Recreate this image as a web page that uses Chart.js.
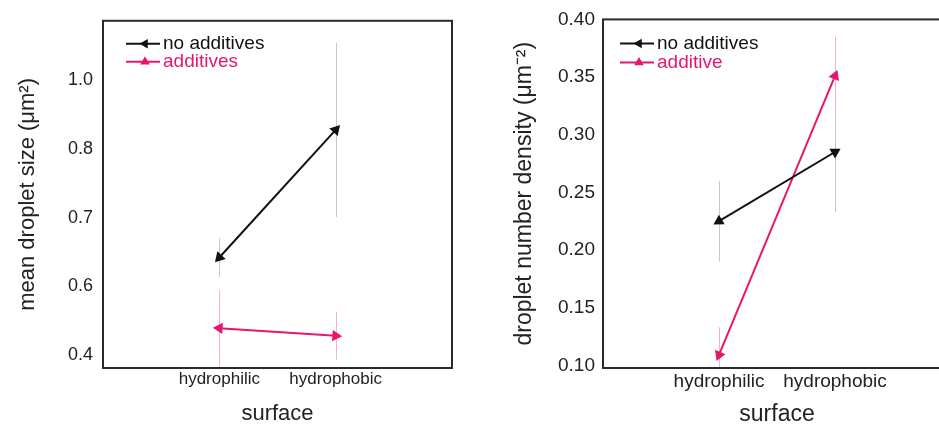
<!DOCTYPE html>
<html>
<head>
<meta charset="utf-8">
<script src="https://cdn.jsdelivr.net/npm/chart.js@4.4.1/dist/chart.umd.min.js"></script>
<style>
  html, body { margin: 0; padding: 0; background: #fff; overflow: hidden; }
  body { width: 939px; height: 430px; position: relative; }
  .panel { position: absolute; top: 0; }
  #sizePanel { left: 0; }
  #densityPanel { left: 480px; }
</style>
</head>
<body>
<div class="panel" id="sizePanel"><canvas id="sizeChart" width="470" height="430"></canvas></div>
<div class="panel" id="densityPanel"><canvas id="densityChart" width="480" height="430"></canvas></div>
<script>
const surfaces = ['hydrophilic', 'hydrophobic'];

// left panel: mean droplet size
const sizeNoAdditives = [0.642, 0.828];
const sizeNoAdditivesErr = [0.028, 0.127];
const sizeAdditives = [0.539, 0.528];
const sizeAdditivesErr = [0.056, 0.035];
const sizeTickValues = [0.5, 0.6, 0.7, 0.8, 0.9];
const sizeTickLabels = ['0.4', '0.6', '0.7', '0.8', '1.0'];

// right panel: droplet number density
const densityNoAdditives = [0.225, 0.285];
const densityNoAdditivesErr = [0.035, 0.052];
const densityAdditive = [0.109, 0.351];
const densityAdditiveErr = [0.024, 0.034];
const densityTickValues = [0.10, 0.15, 0.20, 0.25, 0.30, 0.35, 0.40];

const BLACK = '#111111';
const PINK = '#e6176b';

Chart.defaults.font.family = '"Liberation Sans", Arial, Helvetica, sans-serif';
Chart.defaults.color = '#222';

// points sit at x = 1, 2 on a 0..3 axis
function toPoints(values) {
    return values.map((v, i) => ({ x: i + 1, y: v }));
}

// turn each triangle so it points along the line, like an arrow head
function arrowRotation(ctx) {
    const chart = ctx.chart;
    const pts = ctx.dataset.data;
    const i = ctx.dataIndex;
    const j = i === 0 ? 1 : 0;
    const xs = chart.scales.x, ys = chart.scales.y;
    if (!xs || !ys || pts.length < 2) return 0;
    const dx = xs.getPixelForValue(pts[i].x) - xs.getPixelForValue(pts[j].x);
    const dy = ys.getPixelForValue(pts[i].y) - ys.getPixelForValue(pts[j].y);
    return Math.atan2(dy, dx) * 180 / Math.PI + 90;
}

function drawTriangle(ctx, x, y, r, deg) {
    const rad = deg * Math.PI / 180;
    ctx.beginPath();
    for (let k = 0; k < 3; k++) {
        const a = rad + k * 2 * Math.PI / 3;
        const px = x + Math.sin(a) * r;
        const py = y - Math.cos(a) * r;
        if (k === 0) ctx.moveTo(px, py); else ctx.lineTo(px, py);
    }
    ctx.closePath();
    ctx.fill();
}

const errorBarsPlugin = {
    id: 'errorBars',
    beforeDatasetsDraw(chart) {
        const ctx = chart.ctx;
        const xs = chart.scales.x, ys = chart.scales.y;
        const area = chart.chartArea;
        ctx.save();
        ctx.beginPath();
        ctx.rect(area.left, area.top, area.right - area.left, area.bottom - area.top);
        ctx.clip();
        ctx.lineWidth = 1;
        chart.data.datasets.forEach(ds => {
            ctx.strokeStyle = ds.errorColor;
            ds.data.forEach((p, i) => {
                const e = ds.errors[i];
                const px = Math.round(xs.getPixelForValue(p.x)) + 0.5;
                ctx.beginPath();
                ctx.moveTo(px, ys.getPixelForValue(p.y + e));
                ctx.lineTo(px, ys.getPixelForValue(p.y - e));
                ctx.stroke();
            });
        });
        ctx.restore();
    }
};

const framePlugin = {
    id: 'frame',
    afterDatasetsDraw(chart) {
        const { ctx, chartArea } = chart;
        ctx.save();
        ctx.strokeStyle = '#2a2a2a';
        ctx.lineWidth = 2;
        ctx.strokeRect(chartArea.left, chartArea.top, chartArea.right - chartArea.left, chartArea.bottom - chartArea.top);
        ctx.restore();
    }
};

const insetLegendPlugin = {
    id: 'insetLegend',
    afterDraw(chart, args, opts) {
        const { ctx, chartArea } = chart;
        ctx.save();
        ctx.font = '19px "Liberation Sans", Arial, sans-serif';
        ctx.textBaseline = 'middle';
        ctx.textAlign = 'left';
        chart.data.datasets.forEach((ds, i) => {
            const x = chartArea.left + opts.x;
            const y = chartArea.top + opts.y + i * opts.rowHeight;
            ctx.strokeStyle = ds.borderColor;
            ctx.fillStyle = ds.borderColor;
            ctx.lineWidth = 2;
            ctx.beginPath();
            ctx.moveTo(x, y);
            ctx.lineTo(x + 34, y);
            ctx.stroke();
            drawTriangle(ctx, x + 19, y, 5.5, i === 0 ? -90 : 0);
            ctx.fillText(ds.label, x + 37, y);
        });
        ctx.restore();
    }
};

function makeDataset(label, values, errors, color, errorColor) {
    return {
        label: label,
        data: toPoints(values),
        errors: errors,
        errorColor: errorColor,
        borderColor: color,
        backgroundColor: color,
        borderWidth: 2,
        pointStyle: 'triangle',
        pointRadius: 6.5,
        pointBorderWidth: 0,
        pointRotation: arrowRotation,
        tension: 0
    };
}

function buildChart(canvasId, cfg) {
    const ctx = document.getElementById(canvasId).getContext('2d');
    return new Chart(ctx, {
        type: 'line',
        data: { datasets: cfg.datasets },
        options: {
            responsive: false,
            animation: false,
            layout: { padding: { top: 19, right: cfg.padRight, left: 0, bottom: 0 } },
            plugins: {
                legend: { display: false },
                tooltip: { enabled: false },
                insetLegend: cfg.legend
            },
            scales: {
                x: {
                    type: 'linear',
                    min: 0,
                    max: 3,
                    grid: { display: false, drawTicks: false },
                    border: { display: false },
                    afterBuildTicks: scale => {
                        scale.ticks = surfaces.map((s, i) => ({ value: i + 1 }));
                    },
                    afterFit: scale => { scale.height = 62; },
                    ticks: {
                        padding: cfg.xTickPad,
                        font: { size: cfg.xTickSize },
                        color: '#222',
                        callback: v => surfaces[v - 1]
                    },
                    title: {
                        display: true,
                        text: 'surface',
                        font: { size: cfg.titleSize },
                        color: '#222',
                        padding: { top: 0, bottom: cfg.xTitlePad }
                    }
                },
                y: {
                    type: 'linear',
                    min: cfg.yMin,
                    max: cfg.yMax,
                    grid: { display: false, drawTicks: false },
                    border: { display: false },
                    afterBuildTicks: scale => {
                        scale.ticks = cfg.tickValues.map(v => ({ value: v }));
                    },
                    afterFit: scale => { scale.width = cfg.yWidth; },
                    ticks: {
                        padding: cfg.yTickPad,
                        font: { size: cfg.yTickSize },
                        color: '#222',
                        callback: cfg.tickLabel
                    },
                    title: {
                        display: true,
                        text: cfg.yTitle,
                        font: { size: cfg.titleSize },
                        color: '#222',
                        padding: { top: cfg.yTitlePad, bottom: 0 }
                    }
                }
            }
        },
        plugins: [errorBarsPlugin, framePlugin, insetLegendPlugin]
    });
}

buildChart('sizeChart', {
    datasets: [
        makeDataset('no additives', sizeNoAdditives, sizeNoAdditivesErr, BLACK, '#c8c8c8'),
        makeDataset('additives', sizeAdditives, sizeAdditivesErr, PINK, '#f4b2c7')
    ],
    yMin: 0.481,
    yMax: 0.987,
    tickValues: sizeTickValues,
    tickLabel: v => sizeTickLabels[sizeTickValues.indexOf(v)],
    yTitle: 'mean droplet size (\u03bcm\u00b2)',
    yWidth: 103,
    padRight: 18,
    yTickPad: 10,
    yTickSize: 18,
    xTickSize: 17,
    xTickPad: 1,
    titleSize: 22,
    xTitlePad: 3,
    yTitlePad: 15,
    legend: { x: 23, y: 23, rowHeight: 18 }
});

buildChart('densityChart', {
    datasets: [
        makeDataset('no additives', densityNoAdditives, densityNoAdditivesErr, BLACK, '#c8c8c8'),
        makeDataset('additive', densityAdditive, densityAdditiveErr, PINK, '#f4b2c7')
    ],
    yMin: 0.0977,
    yMax: 0.40,
    tickValues: densityTickValues,
    tickLabel: v => v.toFixed(2),
    yTitle: 'droplet number density (\u03bcm\u207b\u00b2)',
    yWidth: 123,
    padRight: 9,
    yTickPad: 8,
    yTickSize: 19,
    xTickSize: 19,
    xTickPad: 2,
    titleSize: 23,
    xTitlePad: 2,
    yTitlePad: 31,
    legend: { x: 17, y: 24, rowHeight: 19 }
});
</script>
</body>
</html>
